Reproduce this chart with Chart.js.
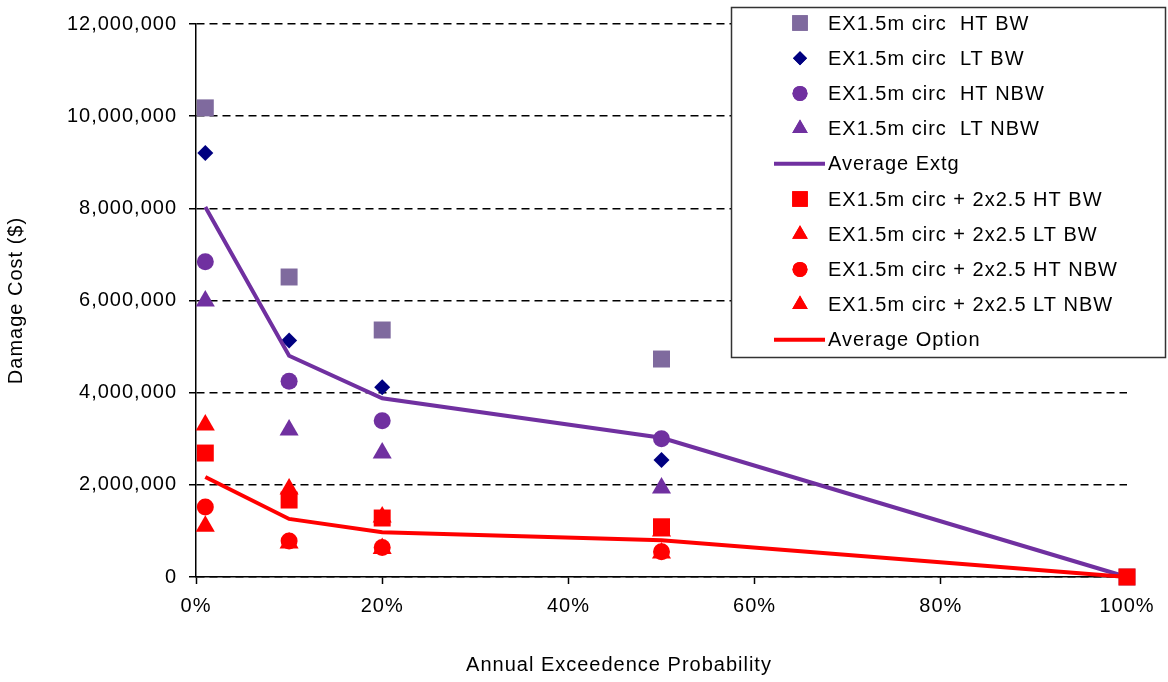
<!DOCTYPE html>
<html>
<head>
<meta charset="utf-8">
<script src="https://cdn.jsdelivr.net/npm/chart.js@4/dist/chart.umd.min.js"></script>
<style>
 html,body{margin:0;padding:0;background:#fff;}
 #wrap{width:1168px;height:682px;}
</style>
</head>
<body>
<div id="wrap"><canvas id="myChart"></canvas></div>
<script>
// annual exceedence probabilities
const aep = [0.01, 0.1, 0.2, 0.5, 1.0];

// existing system
const extHtBw  = [10180000, 6510000, 5360000, 4730000, 0];
const extLtBw  = [9200000, 5130000, 4120000, 2540000];
const extHtNbw = [6840000, 4250000, 3390000, 3000000];
const extLtNbw = [5990000, 3190000, 2690000, 1930000];
const avgExtg  = [8030000, 4800000, 3880000, 3020000, 0];

// with 2x2.5 option
const optHtBw  = [2690000, 1670000, 1280000, 1090000, 0];
const optLtBw  = [3300000, 1910000, 1300000, 1000000];
const optHtNbw = [1520000, 780000, 640000, 550000];
const optLtNbw = [1100000, 740000, 620000, 520000];
const avgOpt   = [2170000, 1260000, 970000, 800000, 0];

const yTicks = [0, 2000000, 4000000, 6000000, 8000000, 10000000, 12000000];
const xTicks = [0, 0.2, 0.4, 0.6, 0.8, 1.0];

const GREY_PURPLE = '#7f6a9e', NAVY = '#000080', PURPLE = '#7030a0', RED = '#ff0000';
const FONT = '"Liberation Sans", Arial, sans-serif';

function pts(vals){ return vals.map((v,i) => ({x: aep[i], y: v})); }

function markers(label, vals, color, style, r, legR){
  return {label, data: pts(vals), backgroundColor: color, borderColor: color, borderWidth: 0,
          pointStyle: style, pointRadius: r, pointHoverRadius: r, showLine: false, clip: false, legR};
}
function avgLine(label, vals, color){
  return {label, data: pts(vals), borderColor: color, backgroundColor: color, borderWidth: 4,
          pointRadius: 0, showLine: true, tension: 0, fill: false, clip: false, isLine: true};
}

const datasets = [
  markers('EX1.5m circ  HT BW', extHtBw, GREY_PURPLE, 'rect', 12, 11),
  markers('EX1.5m circ  LT BW', extLtBw, NAVY, 'rectRot', 8, 7),
  markers('EX1.5m circ  HT NBW', extHtNbw, PURPLE, 'circle', 8.5, 7.5),
  markers('EX1.5m circ  LT NBW', extLtNbw, PURPLE, 'triangle', 11, 9),
  avgLine('Average Extg', avgExtg, PURPLE),
  markers('EX1.5m circ + 2x2.5 HT BW', optHtBw, RED, 'rect', 12, 11),
  markers('EX1.5m circ + 2x2.5 LT BW', optLtBw, RED, 'triangle', 11, 9),
  markers('EX1.5m circ + 2x2.5 HT NBW', optHtNbw, RED, 'circle', 8.5, 7.5),
  markers('EX1.5m circ + 2x2.5 LT NBW', optLtNbw, RED, 'triangle', 11, 9),
  avgLine('Average Option', avgOpt, RED)
];
// later series on top
datasets.forEach((d, i) => { d.order = -i; });

// wider letter spacing for all canvas text
const spacing = {
  id: 'spacing',
  beforeLayout(chart){ chart.ctx.letterSpacing = '1px'; },
  beforeDraw(chart){ chart.ctx.letterSpacing = '1px'; }
};

// boxed legend in the top right plus the x axis title
const boxLegend = {
  id: 'boxLegend',
  afterDraw(chart){
    const ctx = chart.ctx;
    const bx = 731.5, by = 7.5, bw = 434, bh = 350;
    ctx.save();
    ctx.letterSpacing = '1px';
    ctx.fillStyle = '#fff';
    ctx.fillRect(bx, by, bw, bh);
    ctx.strokeStyle = '#333';
    ctx.lineWidth = 1.5;
    ctx.strokeRect(bx, by, bw, bh);
    ctx.font = '20px ' + FONT;
    ctx.textBaseline = 'middle';
    chart.data.datasets.forEach((d, i) => {
      const y = 23 + i * 35.2;
      if (d.isLine) {
        ctx.strokeStyle = d.borderColor;
        ctx.lineWidth = 4;
        ctx.beginPath();
        ctx.moveTo(774, y);
        ctx.lineTo(825, y);
        ctx.stroke();
      } else {
        ctx.fillStyle = d.backgroundColor;
        Chart.helpers.drawPoint(ctx, {pointStyle: d.pointStyle, radius: d.legR, rotation: 0, borderWidth: 0}, 800, y);
        ctx.fill();
      }
      ctx.fillStyle = '#000';
      ctx.textAlign = 'left';
      ctx.fillText(d.label, 828, y + 1);
    });
    ctx.textAlign = 'center';
    ctx.fillText('Annual Exceedence Probability', 619, 665);
    ctx.restore();
  }
};

new Chart(document.getElementById('myChart'), {
  type: 'scatter',
  data: {datasets},
  plugins: [spacing, boxLegend],
  options: {
    responsive: true,
    maintainAspectRatio: false,
    animation: false,
    layout: {padding: {left: 0, right: 41, top: 24, bottom: 0}},
    plugins: {legend: {display: false}, tooltip: {enabled: false}},
    scales: {
      x: {
        type: 'linear', min: 0, max: 1,
        afterBuildTicks: s => { s.ticks = xTicks.map(v => ({value: v})); },
        afterFit: s => { s.height = 105; },
        grid: {drawOnChartArea: false, drawTicks: true, tickLength: 7, tickColor: '#000', tickWidth: 1.5},
        border: {color: '#000', width: 1.5},
        ticks: {color: '#000', padding: 10, font: {family: FONT, size: 20},
                callback: v => Math.round(v * 100) + '%'}
      },
      y: {
        min: 0, max: 12000000,
        afterBuildTicks: s => { s.ticks = yTicks.map(v => ({value: v})); },
        afterFit: s => { s.width = 196; },
        grid: {color: '#000', lineWidth: 1.5, tickLength: 7, tickColor: '#000', tickWidth: 1.5},
        border: {color: '#000', width: 1.5, dash: [8, 5]},
        ticks: {color: '#000', padding: 12, font: {family: FONT, size: 20},
                callback: v => v.toLocaleString('en-US')},
        title: {display: true, text: 'Damage Cost ($)', color: '#000',
                font: {family: FONT, size: 20}, padding: {top: 4, bottom: 4}}
      }
    }
  }
});
</script>
</body>
</html>
